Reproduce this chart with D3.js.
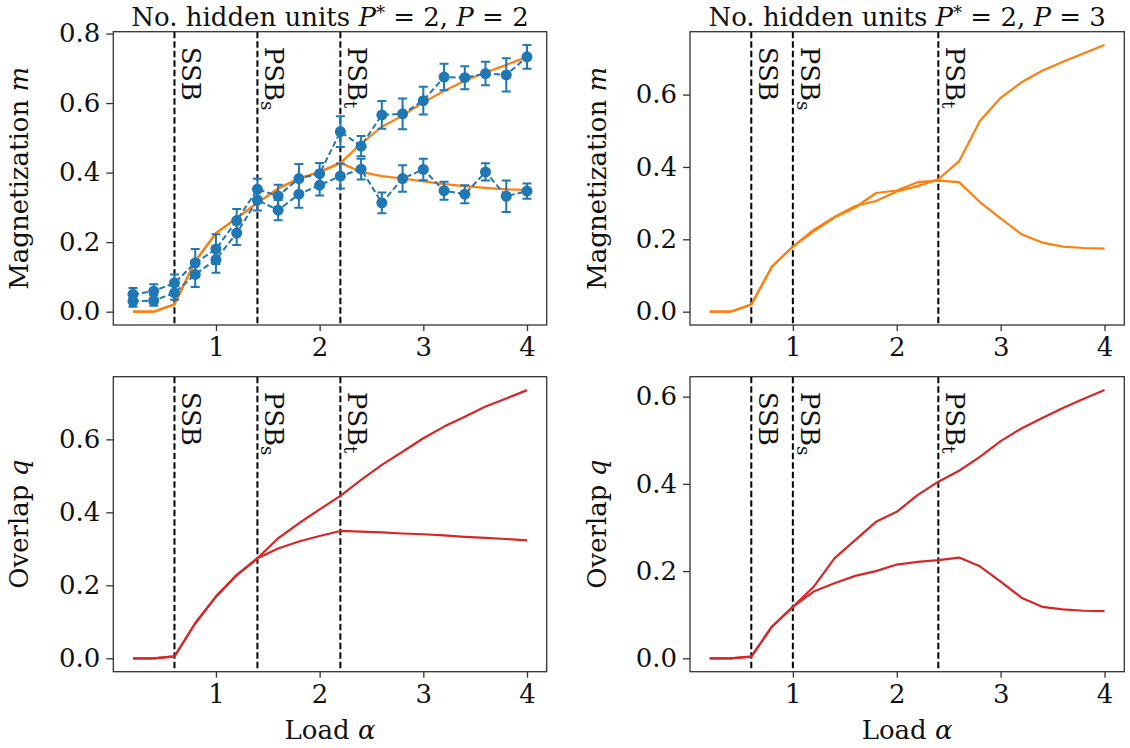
<!DOCTYPE html>
<html>
<head>
<meta charset="utf-8">
<script src="https://cdn.jsdelivr.net/npm/d3@7/dist/d3.min.js"></script>
<style>
  html, body { margin: 0; padding: 0; background: #fff; }
  svg { display: block; font-family: "DejaVu Serif", serif; }
</style>
</head>
<body>
<script>
// Load alpha grid shared by every curve
const loads = [0.2, 0.4, 0.6, 0.8, 1.0, 1.2, 1.4, 1.6, 1.8, 2.0, 2.2, 2.4, 2.6, 2.8, 3.0, 3.2, 3.4, 3.6, 3.8, 4.0];

// P* = 2, P = 2 : simulated magnetization (two hidden units) with error bars
const simHigh    = [0.050, 0.059, 0.083, 0.140, 0.180, 0.262, 0.352, 0.333, 0.383, 0.397, 0.518, 0.476, 0.566, 0.569, 0.607, 0.675, 0.673, 0.685, 0.681, 0.733];
const simHighErr = [0.018, 0.020, 0.024, 0.040, 0.043, 0.033, 0.030, 0.032, 0.042, 0.031, 0.044, 0.029, 0.040, 0.044, 0.040, 0.038, 0.033, 0.034, 0.048, 0.034];
const simLow     = [0.030, 0.032, 0.054, 0.107, 0.150, 0.226, 0.321, 0.292, 0.338, 0.364, 0.390, 0.410, 0.313, 0.383, 0.409, 0.348, 0.338, 0.402, 0.332, 0.347];
const simLowErr  = [0.016, 0.015, 0.020, 0.036, 0.038, 0.034, 0.030, 0.029, 0.039, 0.030, 0.036, 0.030, 0.030, 0.038, 0.031, 0.026, 0.026, 0.025, 0.045, 0.022];

// P* = 2, P = 2 : theory magnetization
const mP2A = [0, 0, 0.021, 0.145, 0.226, 0.269, 0.313, 0.354, 0.383, 0.402, 0.428, 0.483, 0.532, 0.564, 0.602, 0.635, 0.664, 0.688, 0.710, 0.733];
const mP2B = [0, 0, 0.021, 0.145, 0.226, 0.269, 0.313, 0.354, 0.383, 0.402, 0.428, 0.402, 0.390, 0.383, 0.375, 0.367, 0.361, 0.356, 0.352, 0.350];

// P* = 2, P = 3 : theory magnetization
const mP3A = [0, 0, 0.020, 0.125, 0.180, 0.226, 0.262, 0.292, 0.306, 0.332, 0.347, 0.366, 0.416, 0.527, 0.591, 0.634, 0.666, 0.691, 0.714, 0.737];
const mP3B = [0, 0, 0.020, 0.125, 0.180, 0.222, 0.260, 0.288, 0.328, 0.335, 0.358, 0.362, 0.358, 0.303, 0.258, 0.214, 0.191, 0.180, 0.176, 0.174];

// Overlaps q
const qP2A = [0, 0, 0.005, 0.096, 0.169, 0.228, 0.274, 0.329, 0.370, 0.408, 0.445, 0.489, 0.530, 0.566, 0.603, 0.635, 0.662, 0.690, 0.712, 0.735];
const qP2B = [0, 0, 0.005, 0.096, 0.169, 0.228, 0.274, 0.301, 0.320, 0.335, 0.349, 0.347, 0.345, 0.342, 0.340, 0.337, 0.333, 0.330, 0.327, 0.323];
const qP3A = [0, 0, 0.004, 0.073, 0.118, 0.164, 0.229, 0.271, 0.313, 0.336, 0.374, 0.405, 0.430, 0.462, 0.498, 0.527, 0.551, 0.574, 0.595, 0.615];
const qP3B = [0, 0, 0.004, 0.073, 0.118, 0.153, 0.172, 0.189, 0.200, 0.215, 0.221, 0.225, 0.231, 0.211, 0.176, 0.139, 0.118, 0.112, 0.109, 0.108];

// Transition loads (SSB, PSB_s, PSB_t)
const transP2 = [0.6, 1.4, 2.2];
const transP3 = [0.6, 1.0, 2.4];
const transNames = [["SSB", ""], ["PSB", "s"], ["PSB", "t"]];

const xTicks = [1, 2, 3, 4];
const yTicks = [0, 0.2, 0.4, 0.6, 0.8];

const COLORS = { blue: "#1f77b4", orange: "#ff7f0e", red: "#d62728" };
const FS = 26;

const svg = d3.select("body").append("svg")
  .attr("width", 1130).attr("height", 748);

function extentWithMargin(lo, hi, frac) {
  const pad = (hi - lo) * frac;
  return [lo - pad, hi + pad];
}

function drawPanel(cfg) {
  const { box, lines, color, errs, trans, ylabel, ylabelX, title, showXLabel } = cfg;
  const g = svg.append("g");

  // data extents (including error bars) with 5% margins
  let lo = Infinity, hi = -Infinity;
  lines.forEach(s => s.forEach(v => { lo = Math.min(lo, v); hi = Math.max(hi, v); }));
  (errs || []).forEach(e => e.vals.forEach((v, i) => {
    lo = Math.min(lo, v - e.err[i]); hi = Math.max(hi, v + e.err[i]);
  }));
  const x = d3.scaleLinear().domain(extentWithMargin(0.2, 4.0, 0.05)).range([box.x0, box.x1]);
  const y = d3.scaleLinear().domain(extentWithMargin(lo, hi, 0.05)).range([box.y1, box.y0]);

  const clipId = "clip" + Math.round(box.x0) + "_" + Math.round(box.y0);
  g.append("clipPath").attr("id", clipId).append("rect")
    .attr("x", box.x0).attr("y", box.y0).attr("width", box.x1 - box.x0).attr("height", box.y1 - box.y0);
  const plot = g.append("g").attr("clip-path", `url(#${clipId})`);

  // transition markers
  trans.forEach((t, i) => {
    plot.append("line")
      .attr("x1", x(t)).attr("x2", x(t)).attr("y1", box.y0).attr("y2", box.y1)
      .attr("stroke", "#000").attr("stroke-width", 2).attr("stroke-dasharray", "6.5,3");
    const tx = x(t) + 8, ty = box.y0 + 15;
    const txt = g.append("text")
      .attr("transform", `translate(${tx},${ty}) rotate(90)`)
      .attr("font-size", FS).attr("fill", "#111");
    txt.append("tspan").text(transNames[i][0]);
    if (transNames[i][1]) {
      txt.append("tspan").attr("font-size", FS * 0.7).attr("dy", 4).text(transNames[i][1]);
    }
  });

  // theory curves
  const line = d3.line().x((d, i) => x(loads[i])).y(d => y(d));
  lines.forEach(s => {
    plot.append("path").attr("d", line(s)).attr("fill", "none")
      .attr("stroke", color).attr("stroke-width", 2.2).attr("stroke-linejoin", "round");
  });

  // simulation points with error bars
  (errs || []).forEach(e => {
    plot.append("path").attr("d", line(e.vals)).attr("fill", "none")
      .attr("stroke", COLORS.blue).attr("stroke-width", 2).attr("stroke-dasharray", "6,3");
    const eg = plot.append("g");
    e.vals.forEach((v, i) => {
      const cx = x(loads[i]), ya = y(v + e.err[i]), yb = y(v - e.err[i]);
      eg.append("line").attr("x1", cx).attr("x2", cx).attr("y1", ya).attr("y2", yb)
        .attr("stroke", COLORS.blue).attr("stroke-width", 2);
      [ya, yb].forEach(yy => eg.append("line")
        .attr("x1", cx - 4.5).attr("x2", cx + 4.5).attr("y1", yy).attr("y2", yy)
        .attr("stroke", COLORS.blue).attr("stroke-width", 2));
      eg.append("circle").attr("cx", cx).attr("cy", y(v)).attr("r", 5.5).attr("fill", COLORS.blue);
    });
  });

  // frame
  g.append("rect").attr("x", box.x0).attr("y", box.y0)
    .attr("width", box.x1 - box.x0).attr("height", box.y1 - box.y0)
    .attr("fill", "none").attr("stroke", "#333").attr("stroke-width", 1.3);

  // axes
  const xa = g.append("g").attr("transform", `translate(0,${box.y1})`)
    .call(d3.axisBottom(x).tickValues(xTicks).tickFormat(d3.format("d")).tickSize(6).tickPadding(7));
  const yt = yTicks.filter(v => v >= y.domain()[0] && v <= y.domain()[1]);
  const ya = g.append("g").attr("transform", `translate(${box.x0},0)`)
    .call(d3.axisLeft(y).tickValues(yt).tickFormat(d3.format(".1f")).tickSize(7).tickPadding(6));
  [xa, ya].forEach(a => {
    a.select(".domain").remove();
    a.selectAll(".tick line").attr("stroke", "#333").attr("stroke-width", 1.3);
    a.selectAll(".tick text").attr("font-size", FS).attr("font-family", "DejaVu Serif").attr("fill", "#111");
  });

  // y label
  const yl = g.append("text")
    .attr("transform", `translate(${ylabelX},${(box.y0 + box.y1) / 2}) rotate(-90)`)
    .attr("text-anchor", "middle").attr("font-size", FS).attr("fill", "#111");
  yl.append("tspan").text(ylabel[0] + " ");
  yl.append("tspan").attr("font-style", "italic").text(ylabel[1]);

  // x label
  if (showXLabel) {
    const xl = g.append("text")
      .attr("x", (box.x0 + box.x1) / 2).attr("y", box.y1 + 67)
      .attr("text-anchor", "middle").attr("font-size", FS).attr("fill", "#111");
    xl.append("tspan").text("Load ");
    xl.append("tspan").attr("font-style", "italic").text("α");
  }

  // title
  if (title) {
    const tt = g.append("text")
      .attr("x", (box.x0 + box.x1) / 2).attr("y", box.y0 - 6)
      .attr("text-anchor", "middle").attr("font-size", FS).attr("fill", "#111");
    tt.append("tspan").text("No. hidden units ");
    tt.append("tspan").attr("font-style", "italic").text("P");
    tt.append("tspan").attr("font-size", FS * 0.7).attr("dy", -7).text("*");
    tt.append("tspan").attr("dy", 7).text(" = 2, ");
    tt.append("tspan").attr("font-style", "italic").text("P");
    tt.append("tspan").text(" = " + title);
  }
}

const colLeft = { x0: 113.3, x1: 546.7 };
const colRight = { x0: 690, x1: 1124.3 };
const rowTop = { y0: 31.7, y1: 325 };
const rowBottom = { y0: 376.7, y1: 671.7 };

drawPanel({
  box: { ...colLeft, ...rowTop }, lines: [mP2A, mP2B], color: COLORS.orange,
  errs: [{ vals: simHigh, err: simHighErr }, { vals: simLow, err: simLowErr }],
  trans: transP2, ylabel: ["Magnetization", "m"], ylabelX: 28, title: "2"
});
drawPanel({
  box: { ...colRight, ...rowTop }, lines: [mP3A, mP3B], color: COLORS.orange,
  trans: transP3, ylabel: ["Magnetization", "m"], ylabelX: 606, title: "3"
});
drawPanel({
  box: { ...colLeft, ...rowBottom }, lines: [qP2A, qP2B], color: COLORS.red,
  trans: transP2, ylabel: ["Overlap", "q"], ylabelX: 28, showXLabel: true
});
drawPanel({
  box: { ...colRight, ...rowBottom }, lines: [qP3A, qP3B], color: COLORS.red,
  trans: transP3, ylabel: ["Overlap", "q"], ylabelX: 606, showXLabel: true
});
</script>
</body>
</html>
